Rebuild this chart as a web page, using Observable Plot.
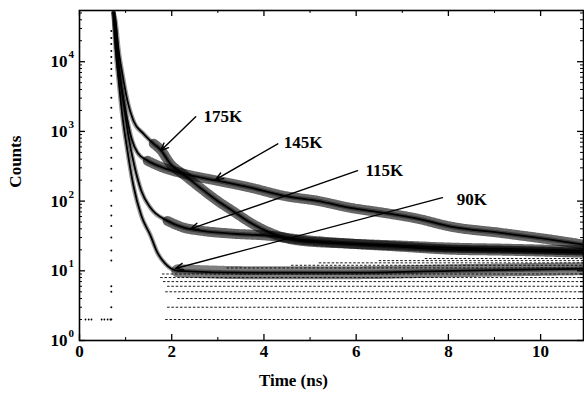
<!DOCTYPE html>
<html><head><meta charset="utf-8">
<script src="https://cdn.jsdelivr.net/npm/d3@7"></script>
<script src="https://cdn.jsdelivr.net/npm/@observablehq/plot@0.6"></script>
<style>body{margin:0;background:#fff}</style>
</head><body><div id="chart"></div>
<script>
// ---- data (time in ns, counts) ----
const curveNames = ["175K", "145K", "115K", "90K"];
const time175 = [0.74,0.78,0.85,0.93,1.04,1.17,1.39,1.61,1.76,1.97,2.26,2.62,2.99,3.34,3.71,4.08,4.43,4.79,5.88,6.96,8.05,9.13,10.93];
const counts175 = [50000,38400,14300,6690,2740,1420,924,664,545,343,240,155,101,71,49,36.5,30,27,24.5,23,21.5,20.8,19.5];
const time145 = [0.74,0.80,0.89,1.00,1.13,1.26,1.48,1.76,2.26,2.99,3.71,4.43,5.16,5.88,6.59,7.33,8.05,9.13,10.22,10.93];
const counts145 = [50000,16800,5300,1970,783,494,379,311,247,196,156,119,101,80,68,56,43,35,28,23.7];
const time115 = [0.74,0.80,0.87,0.95,1.06,1.19,1.34,1.54,1.91,2.26,2.62,3.34,4.08,4.79,5.88,6.96,8.05,9.13,10.93];
const counts115 = [50000,18600,6900,2740,865,322,141,80,52,41.6,37.7,34,32,28,24.5,22.2,20.1,19.5,18.2];
const time90 = [0.74,0.78,0.85,0.93,1.04,1.17,1.34,1.54,1.69,1.84,2.13,3.71,5.88,8.05,10.93];
const counts90 = [50000,16800,5300,1670,527,166,62,32,18.2,13.1,10,9.4,9.4,10,10.7];
// time from which each decay shows its broad noisy tail
const tailFrom = [1.61,1.48,1.91,2.13];

// instrument response: rising-edge points near t = 0.69 ns
const irfTime = 0.69;
const irfCounts = [27600,21900,18000,14300,11700,9620,7890,6270,4810,3030,2180,1570,1130,810,582,419,291,196,141,86,62,44,30,19.5,14,6,5,3,2];
// baseline points before the pulse (2 counts)
const baseTimes = [0.13,0.20,0.26,0.48,0.54,0.61,0.67];
const baseCounts = [2,2,2,2,2,2,2];

// quantised low-count levels and the time from which they appear
const quantLevels = [2,3,4,5,6,7,8,9,11,12,13,14,15];
const quantStart = [1.87,1.91,2.13,1.87,1.91,1.82,1.76,1.80,3.2,4.6,5.2,6.5,7.5];

// annotations
const arrowFromT = [2.52,4.30,6.03,7.87];
const arrowFromC = [1620,664,273,112];
const arrowToT = [1.76,2.95,2.41,2.08];
const arrowToC = [527,203,40,10.8];
const labelT = [2.69,4.43,6.20,8.18];
const labelC = [1620,687,273,105];

const xTicks = [0,2,4,6,8,10];
const xMinor = [1,3,5,7,9];
const yDecades = [1,10,100,1000,10000];
const yExponents = ["0","1","2","3","4"];

const xMax = 10.93, yMax = 54300;

// ---- build tables ----
const rows = [];
[[time175,counts175],[time145,counts145],[time115,counts115],[time90,counts90]].forEach(([ts,cs],i)=>{
  ts.forEach((t,j)=>rows.push({curve: curveNames[i], t, c: cs[j], tail: t >= tailFrom[i]}));
});
const tailRows = rows.filter(d => d.tail && d.curve !== "90K");
const tail90 = rows.filter(d => d.tail && d.curve === "90K");
const irfRows = irfCounts.map(c=>({t: irfTime, c}));
const baseRows = baseTimes.map((t,i)=>({t, c: baseCounts[i]}));
const quantRows = quantLevels.map((c,i)=>({c, t0: quantStart[i]}));
const arrowRows = curveNames.map((n,i)=>({x1: arrowFromT[i], y1: arrowFromC[i], x2: arrowToT[i], y2: arrowToC[i]}));
const labelRows = curveNames.map((n,i)=>({text: n, t: labelT[i], c: labelC[i]}));
const yMinor = [];
yDecades.forEach(d=>{ for (let k=2;k<=9;k++) if (d*k < yMax) yMinor.push(d*k); });

const plotW = 504, plotH = 330;
const font = "'Liberation Serif', 'DejaVu Serif', serif";

const svg = Plot.plot({
  width: 584, height: 398,
  marginLeft: 79, marginRight: 1, marginTop: 10, marginBottom: 58,
  style: {fontFamily: font, background: "white", color: "black"},
  x: {domain: [0, xMax], axis: null},
  y: {type: "log", domain: [1, yMax], axis: null},
  marks: [
    Plot.ruleY(quantRows, {y: "c", x1: "t0", x2: xMax, stroke: "black", strokeWidth: 0.9, strokeDasharray: "2.5 1.8"}),
    Plot.line(tail90, {x: "t", y: "c", stroke: "black", strokeOpacity: 0.5, strokeWidth: 13, strokeDasharray: "0.8 2", curve: "monotone-x", clip: true}),
    Plot.line(tailRows, {x: "t", y: "c", z: "curve", stroke: "black", strokeOpacity: 0.6, strokeWidth: 10, strokeDasharray: "0.9 1.6", curve: "monotone-x", clip: true}),
    Plot.line(rows, {x: "t", y: "c", z: "curve", stroke: "black", strokeOpacity: 0.4, strokeWidth: 4.5, strokeDasharray: "0.8 1", curve: "monotone-x", clip: true}),
    Plot.line(rows, {x: "t", y: "c", z: "curve", stroke: "black", strokeWidth: 1.8, curve: "monotone-x", clip: true}),
    Plot.dot(irfRows, {x: "t", y: "c", r: 1, fill: "black", stroke: null}),
    Plot.dot(baseRows, {x: "t", y: "c", r: 0.9, fill: "black", stroke: null}),
    Plot.arrow(arrowRows, {x1: "x1", y1: "y1", x2: "x2", y2: "y2", stroke: "black", strokeWidth: 1.4, headLength: 9, headAngle: 45}),
    Plot.text(labelRows, {x: "t", y: "c", text: "text", textAnchor: "start", fontSize: 17, fontWeight: "bold", fill: "black"}),
    Plot.frame({stroke: "black", strokeWidth: 1.6}),
    // inward ticks
    Plot.tickX(xTicks, {x: d=>d, insetTop: plotH-6, stroke: "black", strokeWidth: 1.3}),
    Plot.tickX(xMinor, {x: d=>d, insetTop: plotH-3, stroke: "black", strokeWidth: 1}),
    Plot.tickX(xTicks, {x: d=>d, insetBottom: plotH-6, stroke: "black", strokeWidth: 1.3}),
    Plot.tickX(xMinor, {x: d=>d, insetBottom: plotH-3, stroke: "black", strokeWidth: 1}),
    Plot.tickY(yDecades, {y: d=>d, insetRight: plotW-6, stroke: "black", strokeWidth: 1.3}),
    Plot.tickY(yMinor, {y: d=>d, insetRight: plotW-3, stroke: "black", strokeWidth: 1}),
    Plot.tickY(yDecades, {y: d=>d, insetLeft: plotW-6, stroke: "black", strokeWidth: 1.3}),
    Plot.tickY(yMinor, {y: d=>d, insetLeft: plotW-3, stroke: "black", strokeWidth: 1}),
    // axes labels
    Plot.text(xTicks, {x: d=>d, frameAnchor: "bottom", dy: 16, text: d=>String(d), fontSize: 17, fontWeight: "bold", fill: "black"}),
    Plot.text(yDecades, {y: d=>d, frameAnchor: "left", text: ()=>"10", dx: -12, textAnchor: "end", fontSize: 17, fontWeight: "bold", fill: "black"}),
    Plot.text(yDecades, {y: d=>d, frameAnchor: "left", text: (d,i)=>yExponents[i], dx: -11, dy: -7, textAnchor: "start", fontSize: 11, fontWeight: "bold", fill: "black"}),
    Plot.text(["Time (ns)"], {x: 4.64, frameAnchor: "bottom", dy: 45, text: d=>d, fontSize: 17, fontWeight: "bold", fill: "black"}),
    Plot.text(["Counts"], {y: 156, frameAnchor: "left", dx: -64, rotate: -90, text: d=>d, fontSize: 17, fontWeight: "bold", fill: "black"})
  ]
});

document.getElementById("chart").appendChild(svg);
</script>
</body></html>
